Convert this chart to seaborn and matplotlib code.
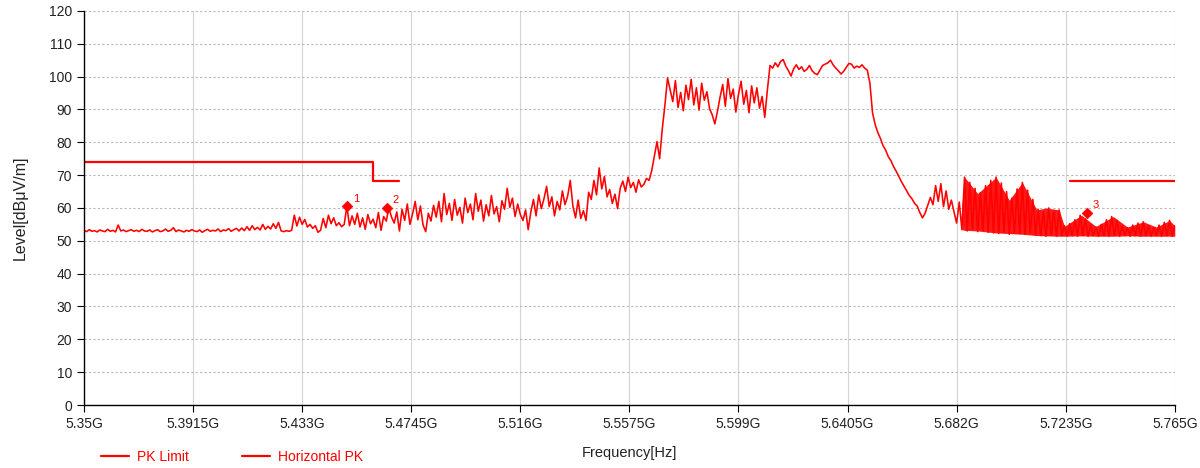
import numpy as np
import pandas as pd
import matplotlib.pyplot as plt
import seaborn as sns
from matplotlib.lines import Line2D

# sweep trace (dBuV/m), one reading per 1 MHz from 5.350 to 5.765 GHz
trace_level = [
    53.2, 52.8, 53.4, 52.9, 53.1, 52.7, 53.3, 53.0, 52.8, 53.5,
    52.9, 53.2, 52.7, 54.8, 53.0, 53.3, 52.8, 53.1, 53.4, 52.9,
    53.2, 52.8, 53.5, 53.0, 52.9, 53.3, 52.7, 53.1, 53.4, 52.8,
    53.0, 53.6, 52.9, 53.2, 54.0, 52.8, 53.3, 53.0, 52.7, 53.2,
    52.9, 53.4, 53.0, 52.8, 53.3, 52.6, 53.1, 53.5, 52.9, 53.2,
    53.0, 53.6, 52.8, 53.3, 53.1, 53.7, 52.9, 53.4, 53.8, 53.0,
    53.9, 53.1, 54.3, 53.2, 54.6, 53.4, 54.1, 53.3, 55.0, 53.5,
    54.4, 53.6, 55.2, 53.8, 55.6, 53.0, 52.8, 53.1, 52.9, 53.2,
    57.8, 54.5, 57.2, 55.0, 56.5, 54.2, 55.0, 53.8, 54.6, 52.6,
    53.2, 56.8, 54.0, 57.8, 55.2, 57.0, 54.6, 55.5, 54.3, 55.0,
    60.5, 54.6, 57.6, 55.0, 58.4, 54.2, 57.0, 53.5, 58.0, 55.2,
    56.6, 54.0, 58.6, 53.2, 57.4, 56.0, 60.0, 57.2, 55.4, 58.8,
    53.0, 59.6, 56.2, 61.2, 55.0, 58.2, 62.0, 56.4, 60.6, 54.8,
    52.8, 58.4, 56.0, 60.8, 57.2, 62.0, 55.8, 64.4, 58.0, 61.4,
    56.2, 62.6, 57.8, 60.2, 55.4, 63.0, 58.6, 61.2, 56.4, 64.4,
    59.0, 62.4, 56.0, 61.0, 57.6, 63.8, 58.2, 60.4, 55.8, 62.2,
    59.6, 66.0, 60.2, 63.0, 57.4, 61.2, 58.0, 56.2, 59.4, 53.4,
    58.8, 62.6, 57.6, 64.0, 59.8, 62.8, 66.6, 60.4, 63.4, 57.6,
    62.0, 59.4, 65.2, 61.0, 63.6, 68.4, 60.6, 57.0, 62.4, 56.8,
    59.2, 56.2, 64.8, 62.6, 68.4, 64.0, 72.2, 65.8, 69.6, 63.4,
    65.6, 61.4, 64.2, 59.8, 66.0, 68.2, 65.0, 69.4, 66.2, 67.8,
    64.8, 68.6, 66.4, 67.2, 69.0, 68.4, 71.4, 75.8, 80.2, 75.0,
    84.0, 91.2, 99.6, 96.0, 92.4, 98.8, 90.6, 95.2, 89.6, 97.4,
    93.0, 99.2, 91.4, 96.6, 89.8, 98.0, 92.8, 95.4, 90.2, 88.4,
    85.6, 89.4, 93.8, 97.6, 91.0, 99.4, 93.4, 96.2, 89.2, 94.6,
    98.6, 91.6, 95.8, 89.0, 97.2, 92.0, 96.6, 90.4, 94.0, 87.6,
    96.0, 103.4, 102.6, 104.2, 103.0, 104.6, 105.2, 103.2, 101.8, 100.2,
    102.4, 103.6, 102.2, 103.0, 101.6, 102.2, 103.4, 101.8, 101.0, 100.6,
    102.0, 103.4, 103.8, 104.2, 105.0, 103.6, 102.6, 101.8, 100.8, 101.6,
    102.8, 104.0, 103.8, 102.6, 103.2, 102.8, 103.6, 102.6, 102.0, 98.0,
    89.0, 85.4, 83.0, 81.2, 79.0, 77.6, 75.6, 74.4, 72.6, 71.2,
    69.6, 68.0, 66.6, 65.2, 63.8, 62.8, 61.4, 60.6, 58.6, 57.0,
    58.4, 60.8, 63.2, 61.0, 66.8, 62.0, 67.4, 60.4, 65.2, 59.6,
    62.4, 58.8, 55.4, 61.8,
    53.4, 69.4, 53.0, 67.8, 53.6, 66.0, 52.8, 64.6, 53.2, 66.8,
    52.6, 68.4, 52.4, 69.4, 52.2, 67.6, 52.6, 65.0, 52.0, 63.0,
    52.4, 65.8, 52.2, 67.8, 52.0, 65.4, 52.4, 62.6, 51.8, 59.6,
    51.6, 58.8, 51.4, 60.0, 51.8, 59.2, 51.4, 59.4, 51.6, 54.6,
    51.4, 55.2, 51.6, 56.4, 51.4, 57.8, 51.6, 56.6, 51.4, 54.8,
    51.6, 54.2, 51.4, 55.0, 51.6, 56.4, 51.4, 57.4, 51.6, 56.2,
    51.4, 54.4, 51.6, 54.0, 51.4, 54.8, 51.6, 55.4, 51.4, 55.8,
    51.6, 54.6, 51.4, 54.0, 51.6, 54.8, 51.4, 55.6, 51.6, 56.2,
    51.4, 54.6,
]

# envelope of the densely oscillating part above 5.684 GHz
env_freq = [5.684, 5.685, 5.690, 5.697, 5.702, 5.707, 5.7125, 5.716, 5.721,
            5.723, 5.7295, 5.735, 5.7416, 5.747, 5.753, 5.758, 5.763, 5.765]
env_upper = [61.0, 69.4, 64.4, 69.4, 62.4, 67.8, 59.4, 60.0, 59.4,
             54.4, 57.8, 54.4, 57.4, 54.2, 55.8, 54.2, 56.2, 54.6]
env_lower = [53.4, 53.2, 53.0, 52.4, 52.2, 52.0, 51.6, 51.5, 51.4,
             51.4, 51.5, 51.4, 51.4, 51.5, 51.4, 51.4, 51.4, 51.4]

# PK limit
limit1_freq = [5.35, 5.46, 5.46, 5.47]
limit1_level = [74.0, 74.0, 68.2, 68.2]
limit2_freq = [5.725, 5.765]
limit2_level = [68.2, 68.2]

# markers
marker_id = ["1", "2", "3"]
marker_freq = [5.4502, 5.4652, 5.7315]
marker_level = [60.6, 60.1, 58.6]

xtick_vals = [5.35, 5.3915, 5.433, 5.4745, 5.516, 5.5575, 5.599, 5.6405, 5.682, 5.7235, 5.765]
xtick_labels = ["5.35G", "5.3915G", "5.433G", "5.4745G", "5.516G", "5.5575G",
                "5.599G", "5.6405G", "5.682G", "5.7235G", "5.765G"]

trace_freq = np.linspace(5.35, 5.765, len(trace_level))
df = pd.DataFrame({"freq": trace_freq, "level": trace_level})

sns.set_style("white")
plt.rcParams["font.family"] = ["Liberation Sans", "DejaVu Sans"]

fig = plt.figure(figsize=(12, 4.68), dpi=100)
ax = fig.add_axes([0.07, 0.1346, 0.909, 0.842])

red = "#ff0000"
ax.fill_between(env_freq, env_lower, env_upper, color=red, alpha=0.9, lw=0)
sns.lineplot(data=df, x="freq", y="level", color=red, lw=1.15, estimator=None, sort=False, ax=ax)
sns.lineplot(x=limit1_freq, y=limit1_level, color=red, lw=1.6, estimator=None, sort=False, ax=ax)
sns.lineplot(x=limit2_freq, y=limit2_level, color=red, lw=1.6, estimator=None, sort=False, ax=ax)
sns.scatterplot(x=marker_freq, y=marker_level, marker="D", s=30, color=red, edgecolor=red, ax=ax, zorder=5)
for lab, fx, fy in zip(marker_id, marker_freq, marker_level):
    ax.annotate(lab, (fx, fy), xytext=(4, 3), textcoords="offset points",
                color=red, fontsize=8)

ax.set_xlim(5.35, 5.765)
ax.set_ylim(0, 120)
ax.set_xticks(xtick_vals)
ax.set_xticklabels(xtick_labels)
ax.set_yticks(range(0, 121, 10))
ax.tick_params(axis="both", direction="out", length=5, width=0.8, color="black",
               labelsize=10, labelcolor="#222222", bottom=True, left=True)

ax.grid(axis="x", color="#d4d4d4", ls="-", lw=0.8)
ax.grid(axis="y", color="#b8b8b8", ls=(0, (2, 2)), lw=0.8)
ax.set_axisbelow(True)
for s in ["top", "right"]:
    ax.spines[s].set_visible(False)
for s in ["left", "bottom"]:
    ax.spines[s].set_color("black")
    ax.spines[s].set_linewidth(1.0)

ax.set_xlabel("Frequency[Hz]", fontsize=10.5, color="#222222")
ax.xaxis.set_label_coords(0.5, -0.105)
ax.set_ylabel("Level[dBμV/m]", fontsize=11.5, color="#222222")
ax.yaxis.set_label_coords(-0.052, 0.5)

handles = [Line2D([0], [0], color=red, lw=1.6), Line2D([0], [0], color=red, lw=1.6)]
fig.legend(handles, ["PK Limit", "Horizontal PK"], loc="lower left",
           bbox_to_anchor=(0.074, -0.018), ncol=2, frameon=False,
           fontsize=10, labelcolor=red, handlelength=2.0, handletextpad=0.6,
           columnspacing=3.8)

fig.savefig("out.png", dpi=100)
